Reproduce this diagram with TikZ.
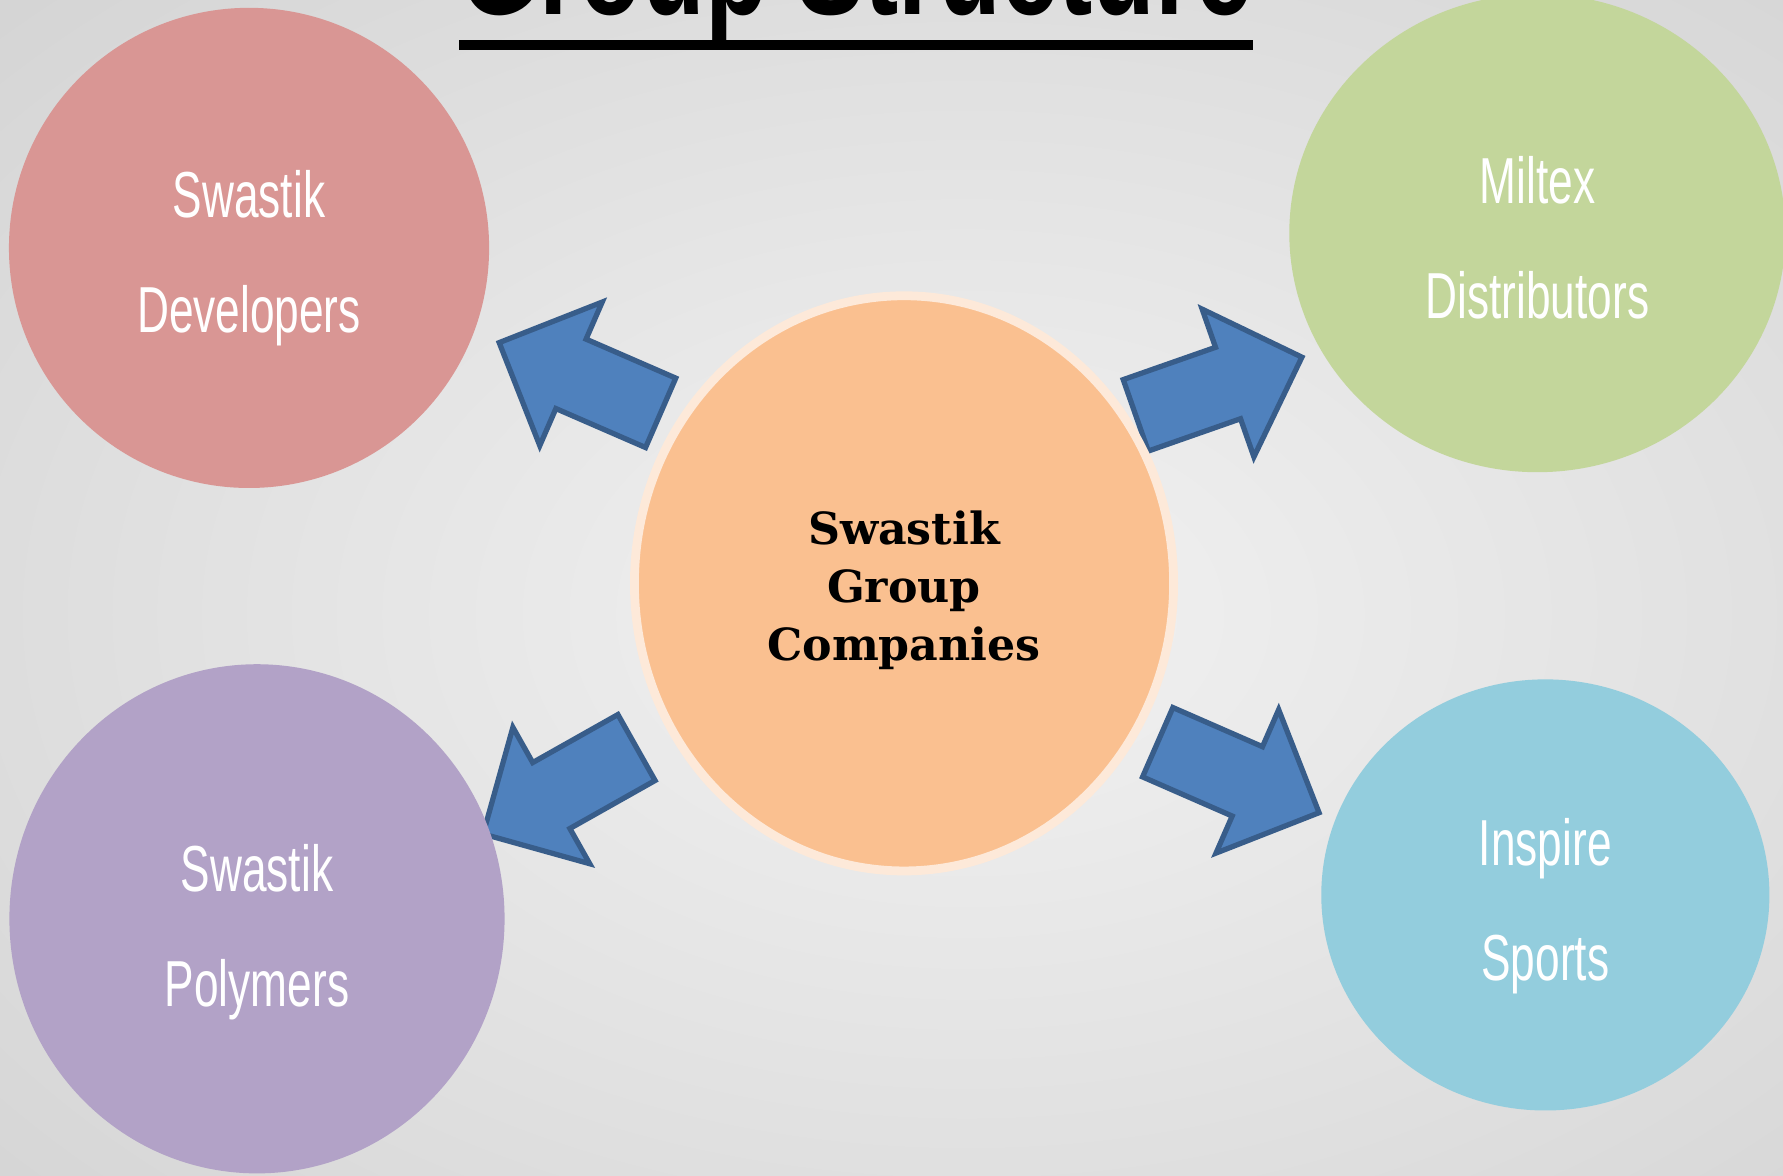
\documentclass[tikz,border=0pt]{standalone}
\usepackage{fontspec}
\usepackage{tikz}
\usetikzlibrary{shapes.geometric, shapes.arrows, calc}
\newfontfamily\labelfont{Liberation Sans}[FakeStretch=0.68]
\newfontfamily\titlefont{Liberation Sans}[FakeStretch=0.73]
\newfontfamily\hubfont{DejaVu Serif}
\definecolor{bgin}{HTML}{F2F2F2}
\definecolor{bgnear}{HTML}{E5E5E5}
\definecolor{bgmid}{HTML}{CBCBCB}
\definecolor{bgout}{HTML}{BDBDBD}
\definecolor{devred}{HTML}{D99694}
\definecolor{milgreen}{HTML}{C3D69B}
\definecolor{polypurple}{HTML}{B2A2C7}
\definecolor{sportblue}{HTML}{93CDDD}
\definecolor{hubfill}{HTML}{FAC090}
\definecolor{hubrim}{HTML}{FDE9D9}
\definecolor{arrowfill}{HTML}{4F81BD}
\definecolor{arrowline}{HTML}{385D8A}
\pgfdeclareradialshading{backdrop}{\pgfpoint{0bp}{0bp}}{color(0bp)=(bgin); color(12bp)=(bgnear); color(35bp)=(bgmid); color(50bp)=(bgout)}
\tikzstyle{company} = [ellipse, inner sep=0pt]
\tikzstyle{companytext} = [inner sep=0pt, text=white, align=center, font=\labelfont\fontsize{18.5}{32.7}\selectfont]
\tikzstyle{hub} = [ellipse, inner sep=0pt, fill=hubfill, draw=hubrim, line width=2.5pt, minimum width=5.39cm, minimum height=5.75cm]
\tikzstyle{hubtext} = [inner sep=0pt, align=center, font=\hubfont\bfseries\fontsize{12.6}{16.5}\selectfont]
\tikzstyle{bigarrow} = [single arrow, draw=arrowline, fill=arrowfill, line width=1.5pt, minimum height=1.76cm, minimum width=0pt, inner xsep=0pt, inner ysep=0.352cm, single arrow head extend=0.404cm, single arrow tip angle=90, anchor=tip]

\begin{document}
\begin{tikzpicture}[x=0.011371cm, y=-0.011371cm]
	\useasboundingbox (0,0) rectangle (1568,1034);
	\clip (0,0) rectangle (1568,1034);
	\shade[shading=backdrop] (-264,-194) rectangle (1964,1274);
	% title
	\node (title) [anchor=base, inner sep=0pt, font=\titlefont\bfseries\fontsize{40}{44}\selectfont] at (753,13) {Group Structure};
	\fill ($(title.base west)+(0,22)$) rectangle ($(title.base east)+(0,31)$);
	% arrows
	\node (arrowdev) [bigarrow, rotate=156.5] at (436,300) {};
	\node (arrowmil) [bigarrow, rotate=19.3] at (1148,313) {};
	\node (arrowpoly) [bigarrow, rotate=209.4] at (422,735) {};
	\node (arrowsport) [bigarrow, rotate=336.4] at (1163,716) {};
	% companies
	\node (dev) [company, fill=devred, minimum width=4.80cm, minimum height=4.80cm] at (219,218) {};
	\node (mil) [company, fill=milgreen, minimum width=4.96cm, minimum height=4.78cm] at (1352,205) {};
	\node (poly) [company, fill=polypurple, minimum width=4.95cm, minimum height=5.09cm] at (226,808) {};
	\node (sport) [company, fill=sportblue, minimum width=4.48cm, minimum height=4.31cm] at (1359,787) {};
	\node (devlabel) [companytext] at ($(dev.center)+(0,9)$) {Swastik\\Developers};
	\node (millabel) [companytext] at ($(mil.center)+(0,4)$) {Miltex\\Distributors};
	\node (polylabel) [companytext] at ($(poly.center)+(0,12)$) {Swastik\\Polymers};
	\node (sportlabel) [companytext] at ($(sport.center)+(0,10)$) {Inspire\\Sports};
	% centre
	\node (centre) [hub] at (795,513) {};
	\node (centrelabel) [hubtext] at ($(centre.center)+(0,6)$) {Swastik\\Group\\Companies};
\end{tikzpicture}
\end{document}
